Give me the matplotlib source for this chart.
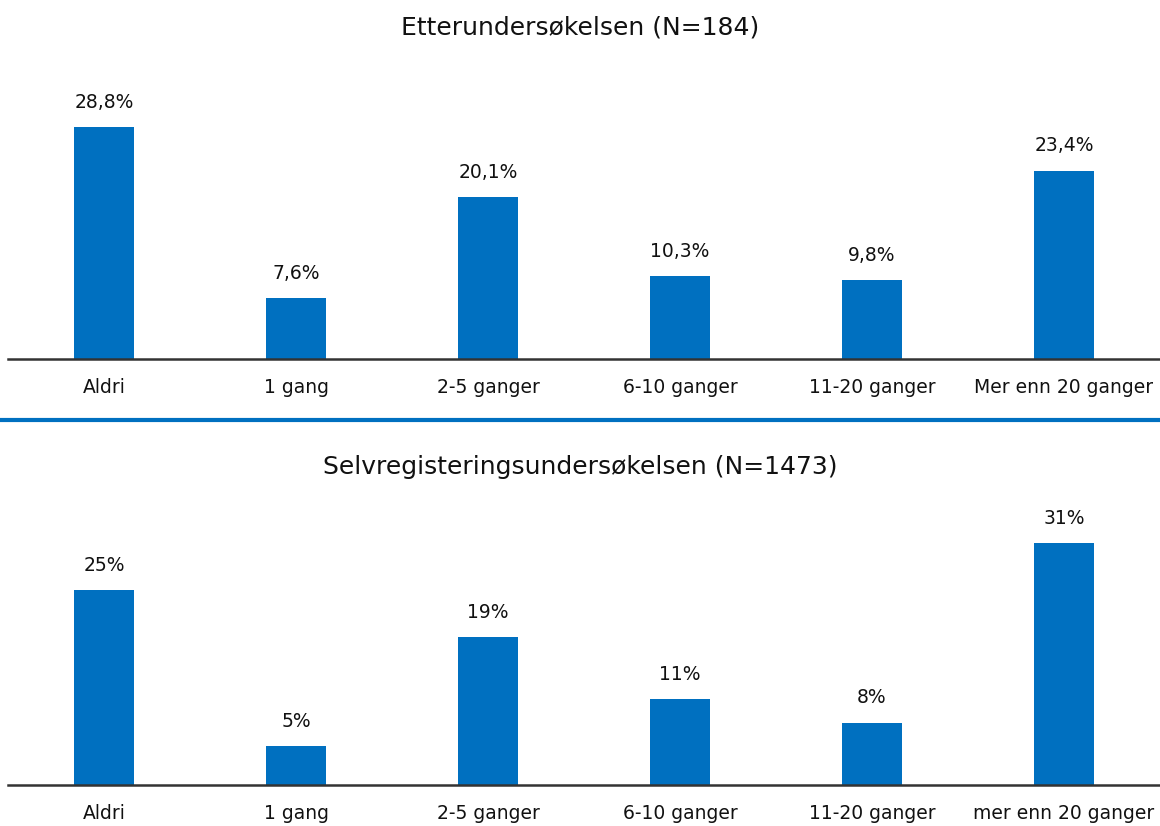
import numpy as np
import matplotlib.pyplot as plt

# data
kategorier_topp = ["Aldri", "1 gang", "2-5 ganger", "6-10 ganger", "11-20 ganger", "Mer enn 20 ganger"]
kategorier_bunn = ["Aldri", "1 gang", "2-5 ganger", "6-10 ganger", "11-20 ganger", "mer enn 20 ganger"]
etter_verdier = [28.8, 7.6, 20.1, 10.3, 9.8, 23.4]
etter_etiketter = ["28,8%", "7,6%", "20,1%", "10,3%", "9,8%", "23,4%"]
selv_verdier = [25, 5, 19, 11, 8, 31]
selv_etiketter = ["25%", "5%", "19%", "11%", "8%", "31%"]

blue = "#0070C0"
W, H = 1160, 826
plt.rcParams['font.family'] = ['DejaVu Sans']

fig = plt.figure(figsize=(W / 100, H / 100), dpi=100)


def px_axes(x0, y0, x1, y1):
    # pixel box (top-left origin) -> figure fraction
    return fig.add_axes([x0 / W, 1 - y1 / H, (x1 - x0) / W, (y1 - y0) / H])


def draw_panel(ax, cats, vals, labels, ymax):
    x = np.arange(len(cats))
    ax.bar(x, vals, width=0.3125, color=blue)
    ax.set_xlim(-0.5, len(cats) - 0.5)
    ax.set_ylim(0, ymax)
    for xi, v, lab in zip(x, vals, labels):
        ax.annotate(lab, (xi, v), xytext=(0, 11), textcoords="offset points",
                    ha="center", va="bottom", fontsize=13.5, color="#111111")
    ax.set_xticks(x)
    ax.set_xticklabels(cats, fontsize=13.5, color="#111111")
    ax.tick_params(axis="x", length=0, pad=14)
    ax.set_yticks([])
    for s in ["top", "right", "left"]:
        ax.spines[s].set_visible(False)
    ax.spines["bottom"].set_color("#333333")
    ax.spines["bottom"].set_linewidth(1.8)


ax1 = px_axes(8, 80, 1160, 359)
draw_panel(ax1, kategorier_topp, etter_verdier, etter_etiketter, 279 / 8.05)
ax2 = px_axes(8, 500, 1160, 785)
draw_panel(ax2, kategorier_bunn, selv_verdier, selv_etiketter, 285 / 7.8)

fig.text(0.5, 1 - 28 / H, "Etterundersøkelsen (N=184)", ha="center", va="center",
         fontsize=18, color="#111111")
fig.text(0.5, 1 - 467 / H, "Selvregisteringsundersøkelsen (N=1473)", ha="center", va="center",
         fontsize=18, color="#111111")

# separator line between the panels
fig.add_artist(plt.Line2D([0, 1], [1 - 420 / H, 1 - 420 / H], color=blue, linewidth=3,
                          transform=fig.transFigure))

fig.savefig("out.png", dpi=100)
